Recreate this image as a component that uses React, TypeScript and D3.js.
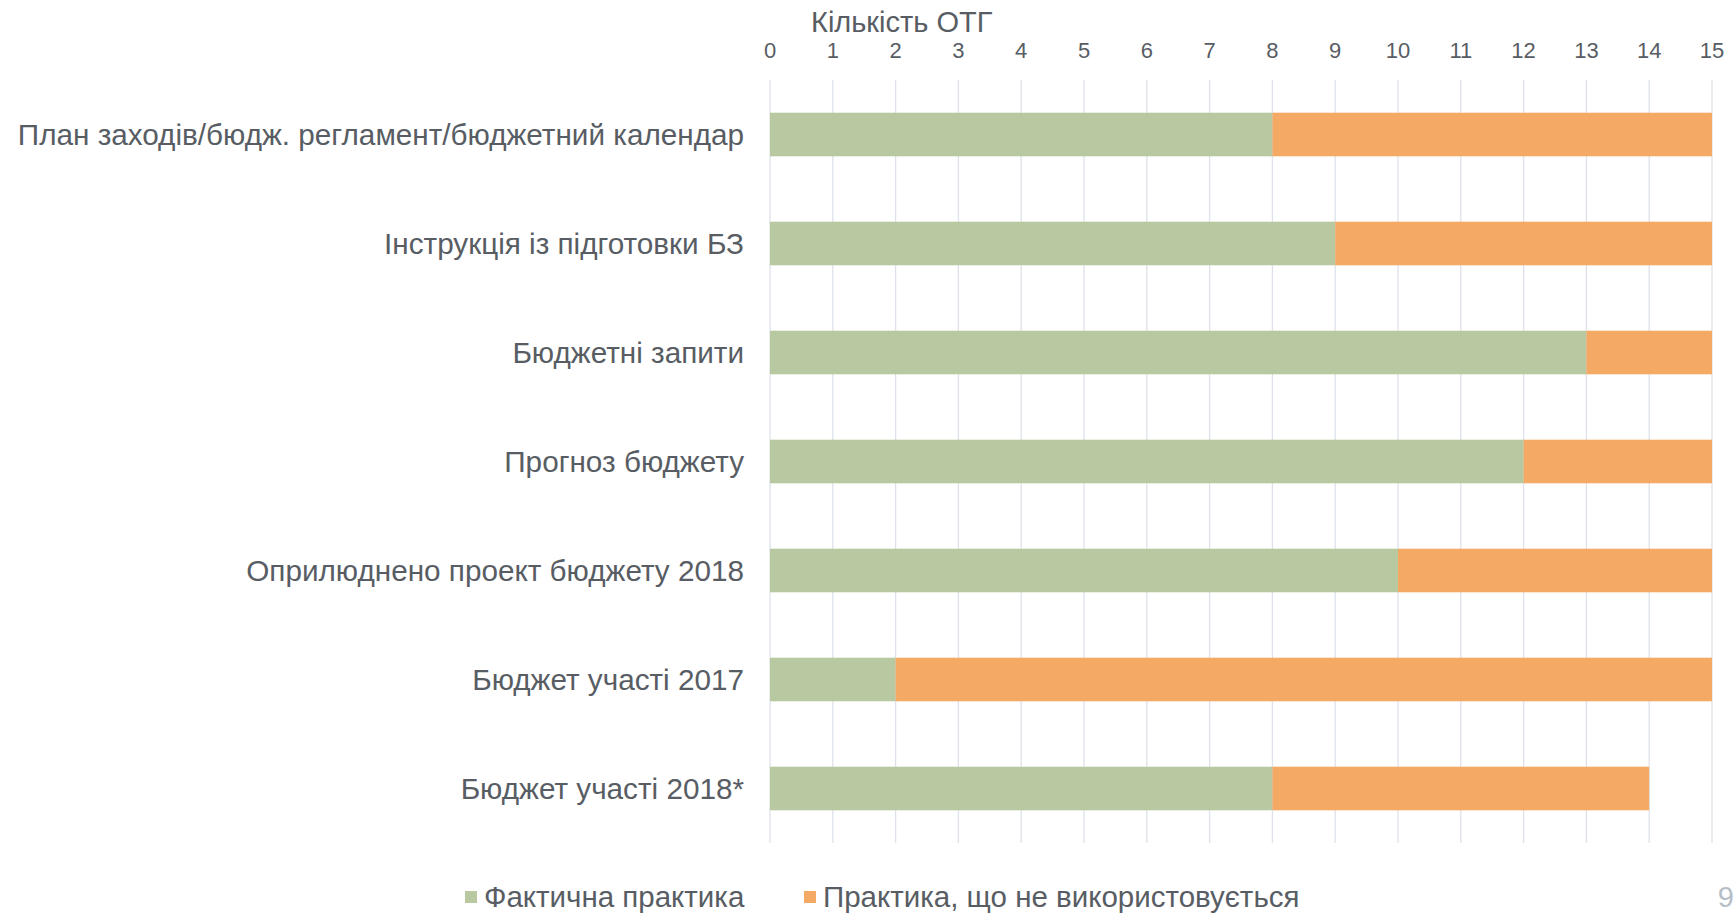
import React from "react";
import * as d3 from "d3";

// categories top to bottom
const categories = [
  "План заходів/бюдж. регламент/бюджетний календар",
  "Інструкція із підготовки БЗ",
  "Бюджетні запити",
  "Прогноз бюджету",
  "Оприлюднено проект бюджету 2018",
  "Бюджет участі 2017",
  "Бюджет участі 2018*",
];
// Фактична практика
const actualValues = [8, 9, 13, 12, 10, 2, 8];
// Практика, що не використовується
const unusedValues = [7, 6, 2, 3, 5, 13, 6];
const seriesNames = ["Фактична практика", "Практика, що не використовується"];
const tickValues = d3.range(0, 16);

const GREEN = "#b8c9a2";
const ORANGE = "#f4a964";
const TEXT = "#585d64";
const NARROW = "'Liberation Sans Narrow', 'Arial Narrow', 'Liberation Sans', sans-serif";
const SANS = "'Liberation Sans', Arial, sans-serif";

export default function App() {
  const width = 1735;
  const height = 914;

  const x = d3.scaleLinear().domain([0, 15]).range([770, 1712]);
  const y = d3
    .scaleBand<string>()
    .domain(categories)
    .range([80, 843])
    .paddingInner(0.6)
    .paddingOuter(0.3);

  const stacked = d3
    .stack<number>()
    .keys(["a", "b"])
    .value((i, key) => (key === "a" ? actualValues[i] : unusedValues[i]))(
    d3.range(categories.length)
  );

  const colors = [GREEN, ORANGE];

  return (
    <svg
      width={width}
      height={height}
      style={{ position: "absolute", left: 0, top: 0, background: "#fff" }}
    >
      {/* gridlines */}
      {tickValues.map((t) => (
        <line
          key={"g" + t}
          x1={x(t)}
          x2={x(t)}
          y1={80}
          y2={843}
          stroke="#dde2ea"
          strokeWidth={1.3}
        />
      ))}

      {/* bars */}
      {stacked.map((layer, si) =>
        layer.map((d, i) => (
          <rect
            key={si + "-" + i}
            x={x(d[0])}
            y={y(categories[i])}
            width={x(d[1]) - x(d[0])}
            height={y.bandwidth()}
            fill={colors[si]}
          />
        ))
      )}

      {/* top axis tick labels */}
      {tickValues.map((t) => (
        <text
          key={"t" + t}
          x={x(t)}
          y={58}
          textAnchor="middle"
          fontFamily={NARROW}
          fontSize={22}
          fill={TEXT}
        >
          {t}
        </text>
      ))}
      <text x={811} y={32} fontFamily={NARROW} fontSize={29} fill={TEXT}>
        Кількість ОТГ
      </text>

      {/* category labels */}
      {categories.map((c) => (
        <text
          key={c}
          x={744}
          y={(y(c) ?? 0) + y.bandwidth() / 2}
          dy="0.35em"
          textAnchor="end"
          fontFamily={SANS}
          fontSize={29.7}
          fill={TEXT}
        >
          {c}
        </text>
      ))}

      {/* legend */}
      {seriesNames.map((name, i) => {
        const lx = i === 0 ? 465 : 804;
        return (
          <g key={name} transform={`translate(${lx},897)`}>
            <rect x={0} y={-6} width={12} height={12} fill={colors[i]} />
            <text x={19} y={0} dy="0.35em" fontFamily={SANS} fontSize={29.5} fill={TEXT}>
              {name}
            </text>
          </g>
        );
      })}

      {/* page number */}
      <text x={1734} y={897} dy="0.35em" textAnchor="end" fontFamily={SANS} fontSize={29} fill="#b6bec9">
        9
      </text>
    </svg>
  );
}
